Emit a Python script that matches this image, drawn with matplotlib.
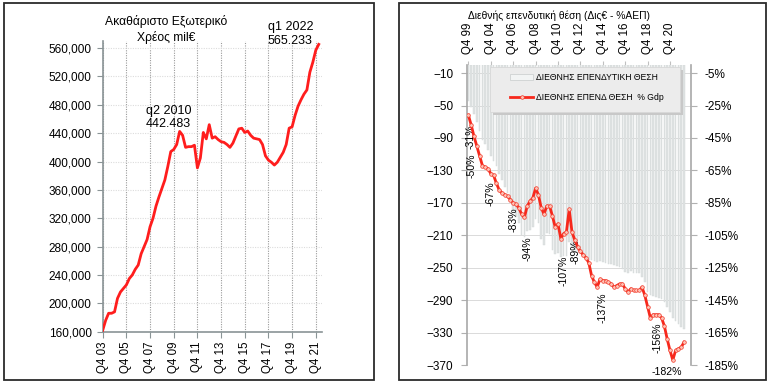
import matplotlib
matplotlib.use('Agg')
import matplotlib.pyplot as plt
from matplotlib.patches import Rectangle, Patch
from matplotlib.lines import Line2D
from matplotlib.ticker import FuncFormatter

plt.rcParams['font.family'] = ['Liberation Sans', 'DejaVu Sans']

# ---------------- data: left chart (gross external debt, mil EUR) -------------
debt_ticks = ['Q4 03', 'Q4 05', 'Q4 07', 'Q4 09', 'Q4 11', 'Q4 13', 'Q4 15',
              'Q4 17', 'Q4 19', 'Q4 21']
debt = [162000, 176000, 186000, 186000, 188000, 207000, 216000, 221000, 226000, 235000,
        240000, 248000, 254000, 270000, 280000, 290000, 308000, 320000, 337000, 350000,
        362000, 374000, 393000, 414000, 417000, 424000, 442483, 437000, 420000, 421000,
        421000, 423000, 391000, 405000, 441000, 432000, 452000, 433000, 435000, 431000,
        428000, 427000, 424000, 420000, 426000, 436000, 446000, 447000, 441000, 443000,
        437000, 433000, 432000, 431000, 424000, 408000, 402000, 399000, 395000, 399000,
        406000, 413000, 424000, 447000, 449000, 465000, 478000, 487000, 495000, 501000,
        526000, 540000, 557000, 565233]
debt_title = 'Ακαθάριστο Εξωτερικό\nΧρέος mil€'
debt_notes = [(26, 'q2 2010\n442.483'), (73, 'q1 2022\n565.233')]

# ---------------- data: right chart (NIIP) -------------------------------------
niip_ticks = ['Q4 99', 'Q4 04', 'Q4 06', 'Q4 08', 'Q4 10', 'Q4 12', 'Q4 14',
              'Q4 16', 'Q4 18', 'Q4 20']
niip_bn = [-45, -52, -60, -70, -82, -92, -98, -105, -112, -118,
           -125, -135, -142, -150, -158, -165, -180, -188, -195, -210,
           -212, -205, -203, -200, -190, -195, -215, -222, -207, -208,
           -228, -233, -232, -237, -236, -235, -218, -225, -228, -230,
           -232, -235, -237, -240, -241, -242, -243, -242, -243, -244,
           -245, -246, -247, -248, -249, -252, -255, -256, -254, -256,
           -257, -257, -262, -268, -280, -284, -285, -286, -287, -288,
           -292, -298, -305, -312, -316, -320, -323, -325]
niip_pct = [-31, -37, -44, -50, -56, -62, -63, -64, -67, -68,
            -73, -77, -79, -80, -81, -83, -85, -86, -88, -92,
            -94, -87, -84, -82, -76, -80, -88, -92, -87, -87,
            -93, -100, -98, -107, -104, -103, -89, -103, -108, -112,
            -115, -117, -119, -122, -130, -134, -137, -132, -133, -133,
            -134, -135, -137, -136, -135, -135, -138, -140, -138, -139,
            -139, -139, -137, -142, -149, -156, -154, -154, -154, -156,
            -161, -169, -176, -182, -176, -175, -174, -171]
niip_title = 'Διεθνής επενδυτική θέση (Δις€ - %ΑΕΠ)'
bar_label = 'ΔΙΕΘΝΗΣ ΕΠΕΝΔΥΤΙΚΗ ΘΕΣΗ'
line_label = 'ΔΙΕΘΝΗΣ ΕΠΕΝΔ ΘΕΣΗ  % Gdp'
pct_label_idx = [0, 3, 8, 15, 20, 33, 36, 46, 65, 73]
pct_label_off = [(2, -21), (-5, -20), (0, -20), (3, -20), (3, -31), (3, -32),
                 (6, -42), (5, -21), (7, -20), (-6, -12)]
pct_label_rot = [90, 90, 90, 90, 90, 90, 90, 90, 90, 0]

W, H = 773, 388
fig = plt.figure(figsize=(W / 100, H / 100), dpi=100)


def fx(px):
    return px / W


def fy(py):
    return 1 - py / H


# panel frames
for (x0, y0, x1, y1) in [(4, 3, 374, 380), (399, 3, 766, 380)]:
    fig.patches.append(Rectangle((fx(x0), fy(y1)), fx(x1) - fx(x0), (y1 - y0) / H,
                                 transform=fig.transFigure, fill=False,
                                 edgecolor='#2b2b2b', linewidth=1.3, zorder=10))

# ---------------- left chart ----------------
grid_c = '#9a9a9a'
spine_c = '#8a9496'
ax1 = fig.add_axes([fx(102.7), fy(331.7), (321.7 - 102.7) / W, (331.7 - 41) / H])
xs = list(range(len(debt)))
ax1.plot(xs, debt, color='#ff1d1d', lw=2.0, solid_joinstyle='round', zorder=3)
ax1.set_xlim(0, 74)
ax1.set_ylim(160000, 570000)
ax1.set_yticks(list(range(160000, 560001, 40000)))
ax1.yaxis.set_major_formatter(FuncFormatter(lambda v, p: f'{v:,.0f}'))
ax1.set_xticks(list(range(0, 73, 8)))
ax1.set_xticklabels(debt_ticks, rotation=90, fontsize=8.3)
ax1.tick_params(axis='y', labelsize=8.5, length=4, color=spine_c, pad=4)
ax1.tick_params(axis='x', length=4, color=spine_c, pad=3)
for s in ['top', 'right']:
    ax1.spines[s].set_visible(False)
for s in ['left', 'bottom']:
    ax1.spines[s].set_color(spine_c)
    ax1.spines[s].set_linewidth(1.2)
ax1.grid(axis='x', color=grid_c, linestyle=(0, (1, 1.2)), linewidth=0.8)
ax1.grid(axis='y', color='#dcdcdc', linestyle=(0, (1, 1.2)), linewidth=0.8)
ax1.set_axisbelow(True)
fig.text(fx(166), fy(29.5), debt_title, ha='center', va='center', fontsize=8.7,
         linespacing=1.25)
note_off = [(-11, 14), (-28, 10)]
for (i, txt), (dx, dy) in zip(debt_notes, note_off):
    ax1.annotate(txt, xy=(i, debt[i]), xytext=(dx, dy), textcoords='offset pixels',
                 ha='center', va='center', fontsize=9, multialignment='left',
                 linespacing=1.2)

# ---------------- right chart ----------------
ax = fig.add_axes([fx(467), fy(365), (691 - 467) / W, 300 / H])
xr = list(range(len(niip_bn)))
ax.bar(xr, niip_bn, width=0.62, color='#dfe3e3', edgecolor='#d3d8d8', linewidth=0.3,
       zorder=2)
ax.set_xlim(-0.5, 79.5)
ax.set_ylim(-370, 0)
ax.set_yticks(list(range(-10, -371, -40)))
ax.xaxis.tick_top()
ax.set_xticks(list(range(0, 73, 8)))
ax.set_xticklabels(niip_ticks, rotation=90, fontsize=8.3)
ax.tick_params(axis='x', length=3, color='#c0c0c0', pad=5)
ax.tick_params(axis='y', labelsize=8.5, length=4, color='#b0b0b0', pad=6)
ax.grid(axis='y', color='#d4d4d4', linestyle='-', linewidth=0.6, zorder=1)
ax.set_axisbelow(True)
for s in ['top', 'right', 'bottom']:
    ax.spines[s].set_visible(False)
ax.spines['left'].set_color('#a8a8a8')
ax.spines['left'].set_linewidth(1.2)

ax2 = ax.twinx()
ax2.plot(xr, niip_pct, color='#f7281c', lw=2.0, marker='o', markersize=2.6,
         markerfacecolor='#ffc4b8', markeredgecolor='#f23a2a', markeredgewidth=0.5,
         zorder=4)
ax2.set_ylim(-185, 0)
ax2.set_yticks(list(range(-5, -186, -20)))
ax2.yaxis.set_major_formatter(FuncFormatter(lambda v, p: f'{v:.0f}%'))
ax2.tick_params(axis='y', labelsize=8.5, length=4, color='#b0b0b0', pad=6)
for s in ['top', 'left', 'bottom']:
    ax2.spines[s].set_visible(False)
ax2.spines['right'].set_color('#a8a8a8')
ax2.spines['right'].set_linewidth(1.2)

for i, (dx, dy), rot in zip(pct_label_idx, pct_label_off, pct_label_rot):
    ax2.annotate(f'{niip_pct[i]:.0f}%', xy=(i, niip_pct[i]), xytext=(dx, dy),
                 textcoords='offset pixels', ha='center', va='center',
                 rotation=rot, fontsize=7.6, annotation_clip=False)

fig.text(fx(468), fy(16), niip_title, ha='left', va='center', fontsize=7.4)

# legend box with shadow
lx0, ly0, lx1, ly1 = 490, 67, 680, 112
fig.patches.append(Rectangle((fx(lx0 + 3), fy(ly1 + 3)), (lx1 - lx0) / W, (ly1 - ly0) / H,
                             transform=fig.transFigure, facecolor='#c8c8c8',
                             edgecolor='none', zorder=5))
fig.patches.append(Rectangle((fx(lx0), fy(ly1)), (lx1 - lx0) / W, (ly1 - ly0) / H,
                             transform=fig.transFigure, facecolor='#ececec',
                             edgecolor='#d8d8d8', linewidth=0.6, zorder=6))
handles = [Patch(facecolor='#f2f4f4', edgecolor='#c8cccc', linewidth=0.5),
           Line2D([0], [0], color='#f7281c', lw=2.0, marker='o', markersize=2.6,
                  markerfacecolor='#ffc4b8', markeredgecolor='#f23a2a',
                  markeredgewidth=0.5)]
leg = fig.legend(handles, [bar_label, line_label], loc='upper left',
                 bbox_to_anchor=(fx(510), fy(73)), frameon=False, fontsize=6.2,
                 handlelength=2.7, handleheight=0.8, handletextpad=0.3,
                 labelspacing=1.25, borderpad=0, borderaxespad=0)
leg.set_zorder(7)

fig.savefig('out.png', dpi=100)
